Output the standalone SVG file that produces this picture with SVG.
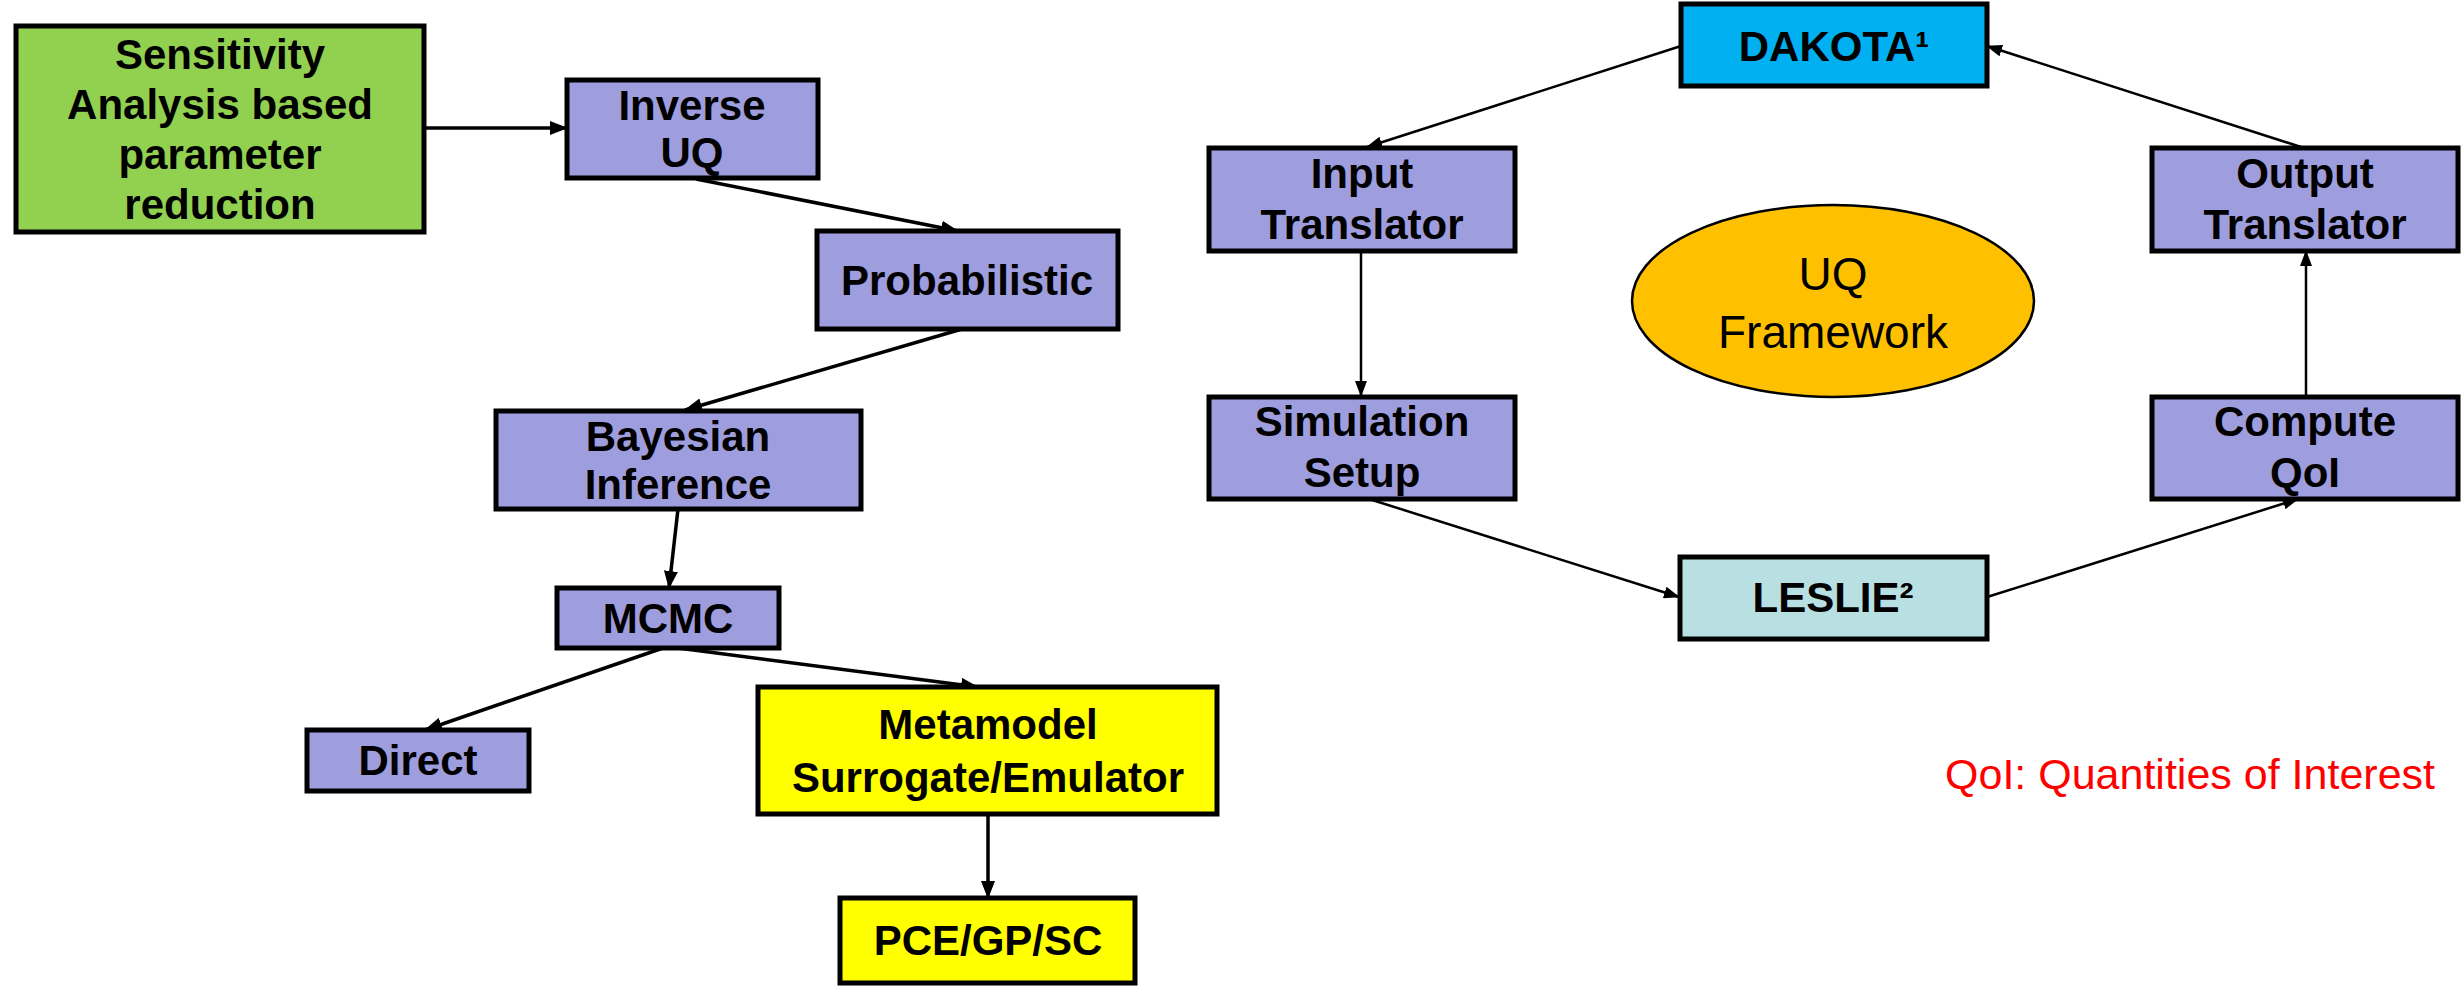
<svg xmlns="http://www.w3.org/2000/svg" width="2463" height="987" viewBox="0 0 2463 987">
<style>
.box{stroke:#000;stroke-width:5}
.purple{fill:#9E9DDD}
.green{fill:#92D050}
.yellow{fill:#FFFF00}
.blue{fill:#00B0F0}
.cyan{fill:#B8DFE2}
.t{font-family:"Liberation Sans",Arial,sans-serif;font-weight:bold;font-size:42px;text-anchor:middle;fill:#000}
.e{font-family:"Liberation Sans",Arial,sans-serif;font-size:46px;text-anchor:middle;fill:#000}
.c1{stroke:#000;stroke-width:3.5;fill:none;marker-end:url(#ah)}
.c2{stroke:#000;stroke-width:2.5;fill:none;marker-end:url(#ah2)}
</style>
<defs>
<marker id="ah" markerUnits="userSpaceOnUse" markerWidth="18" markerHeight="14" refX="17" refY="7" orient="auto">
<path d="M0,0 L18,7 L0,14 z" fill="#000"/>
</marker>
<marker id="ah2" markerUnits="userSpaceOnUse" markerWidth="16" markerHeight="12" refX="15" refY="6" orient="auto">
<path d="M0,0 L16,6 L0,12 z" fill="#000"/>
</marker>
</defs>
<rect width="2463" height="987" fill="#fff"/>

<g id="connectors">
<line class="c1" x1="425" y1="128" x2="567" y2="128"/>
<line class="c1" x1="696" y1="179" x2="958" y2="231"/>
<line class="c1" x1="962" y1="329" x2="685" y2="410"/>
<line class="c1" x1="678" y1="509" x2="669" y2="588"/>
<line class="c1" x1="663" y1="648" x2="425" y2="730"/>
<line class="c1" x1="678" y1="648" x2="978" y2="687"/>
<line class="c1" x1="988" y1="814" x2="988" y2="898"/>
<line class="c2" x1="1681" y1="46" x2="1367" y2="147"/>
<line class="c2" x1="1361" y1="251" x2="1361" y2="396"/>
<line class="c2" x1="1369" y1="499" x2="1679" y2="597"/>
<line class="c2" x1="1987" y1="597" x2="2298" y2="499"/>
<line class="c2" x1="2306" y1="396" x2="2306" y2="251"/>
<line class="c2" x1="2301" y1="147" x2="1987" y2="46"/>
</g>

<g id="sensitivity">
<rect class="box green" x="16" y="26" width="408" height="206"/>
<text class="t" x="220" y="69">Sensitivity</text>
<text class="t" x="220" y="119">Analysis based</text>
<text class="t" x="220" y="169">parameter</text>
<text class="t" x="220" y="219">reduction</text>
</g>
<g id="inverse-uq">
<rect class="box purple" x="567" y="80" width="251" height="98"/>
<text class="t" x="692" y="120">Inverse</text>
<text class="t" x="692" y="167">UQ</text>
</g>
<g id="probabilistic">
<rect class="box purple" x="817" y="231" width="301" height="98"/>
<text class="t" x="967" y="295">Probabilistic</text>
</g>
<g id="bayesian">
<rect class="box purple" x="496" y="411" width="365" height="98"/>
<text class="t" x="678" y="451">Bayesian</text>
<text class="t" x="678" y="499">Inference</text>
</g>
<g id="mcmc">
<rect class="box purple" x="557" y="588" width="222" height="60"/>
<text class="t" x="668" y="633">MCMC</text>
</g>
<g id="direct">
<rect class="box purple" x="307" y="730" width="222" height="61"/>
<text class="t" x="418" y="775">Direct</text>
</g>
<g id="metamodel">
<rect class="box yellow" x="758" y="687" width="459" height="127"/>
<text class="t" x="988" y="739">Metamodel</text>
<text class="t" x="988" y="792">Surrogate/Emulator</text>
</g>
<g id="pce">
<rect class="box yellow" x="840" y="898" width="295" height="85"/>
<text class="t" x="988" y="955">PCE/GP/SC</text>
</g>

<g id="dakota">
<rect class="box blue" x="1681" y="4" width="306" height="82"/>
<text class="t" x="1834" y="61">DAKOTA¹</text>
</g>
<g id="input-translator">
<rect class="box purple" x="1209" y="148" width="306" height="103"/>
<text class="t" x="1362" y="188">Input</text>
<text class="t" x="1362" y="239">Translator</text>
</g>
<g id="output-translator">
<rect class="box purple" x="2152" y="148" width="306" height="103"/>
<text class="t" x="2305" y="188">Output</text>
<text class="t" x="2305" y="239">Translator</text>
</g>
<g id="uq-framework">
<ellipse cx="1833" cy="301" rx="201" ry="96" fill="#FFC000" stroke="#000" stroke-width="2.5"/>
<text class="e" x="1833" y="290">UQ</text>
<text class="e" x="1833" y="348">Framework</text>
</g>
<g id="simulation-setup">
<rect class="box purple" x="1209" y="397" width="306" height="102"/>
<text class="t" x="1362" y="436">Simulation</text>
<text class="t" x="1362" y="487">Setup</text>
</g>
<g id="compute-qoi">
<rect class="box purple" x="2152" y="397" width="306" height="102"/>
<text class="t" x="2305" y="436">Compute</text>
<text class="t" x="2305" y="487">QoI</text>
</g>
<g id="leslie">
<rect class="box cyan" x="1680" y="557" width="307" height="82"/>
<text class="t" x="1833" y="612">LESLIE²</text>
</g>
<g id="legend">
<text x="2435" y="789" font-family="'Liberation Sans',Arial,sans-serif" font-size="43" text-anchor="end" fill="#FF0000">QoI: Quantities of Interest</text>
</g>
</svg>
